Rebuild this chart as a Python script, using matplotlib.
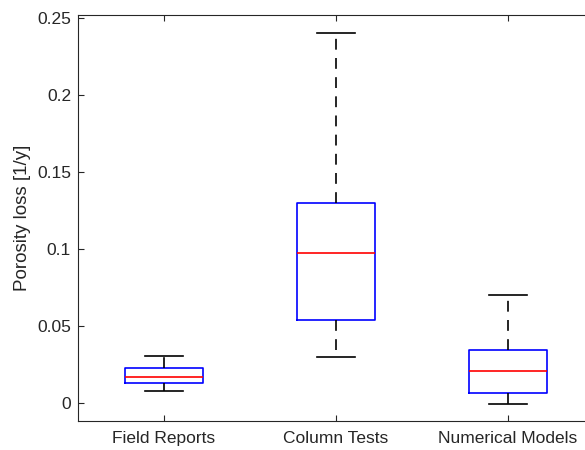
import matplotlib
matplotlib.use("Agg")
import matplotlib.pyplot as plt

categories = ["Field Reports", "Column Tests", "Numerical Models"]
whisker_low = [0.0078, 0.030, -0.0006]
q1 = [0.0130, 0.0539, 0.0065]
median = [0.0169, 0.0974, 0.0205]
q3 = [0.0227, 0.1299, 0.0345]
whisker_high = [0.0302, 0.2400, 0.0701]

plt.rcParams["font.family"] = ["Liberation Sans", "DejaVu Sans"]
plt.rcParams["text.color"] = "#262626"
plt.rcParams["axes.labelcolor"] = "#262626"
plt.rcParams["xtick.labelcolor"] = "#262626"
plt.rcParams["ytick.labelcolor"] = "#262626"

stats = []
for i, name in enumerate(categories):
    stats.append({
        "label": name,
        "whislo": whisker_low[i],
        "q1": q1[i],
        "med": median[i],
        "q3": q3[i],
        "whishi": whisker_high[i],
        "fliers": [],
    })

fig = plt.figure(figsize=(5.85, 4.5), dpi=100)
ax = fig.add_axes([78 / 585, 29 / 450, 516 / 585, 406 / 450])

ax.bxp(
    stats,
    positions=[1, 2, 3],
    widths=0.45,
    showfliers=False,
    boxprops=dict(color="#0000ff", linewidth=1.2),
    medianprops=dict(color="#ff0000", linewidth=1.2),
    whiskerprops=dict(color="black", linewidth=1.2, linestyle=(0, (6.5, 5))),
    capprops=dict(color="black", linewidth=1.2),
    capwidths=0.22,
)

ax.set_xlim(0.5, 3.5)
ax.set_ylim(-0.0117, 0.252)
ax.set_yticks([0, 0.05, 0.1, 0.15, 0.2, 0.25])
ax.set_yticklabels(["0", "0.05", "0.1", "0.15", "0.2", "0.25"])
ax.set_ylabel("Porosity loss [1/y]", fontsize=13.5, labelpad=4)
ax.tick_params(direction="in", labelsize=12.5, top=True, length=4, color="#262626")
ax.tick_params(axis="x", pad=7)
ax.tick_params(axis="y", pad=5)

for spine in ax.spines.values():
    spine.set_color("#262626")
    spine.set_linewidth(0.8)

fig.savefig("out.png", dpi=100)
